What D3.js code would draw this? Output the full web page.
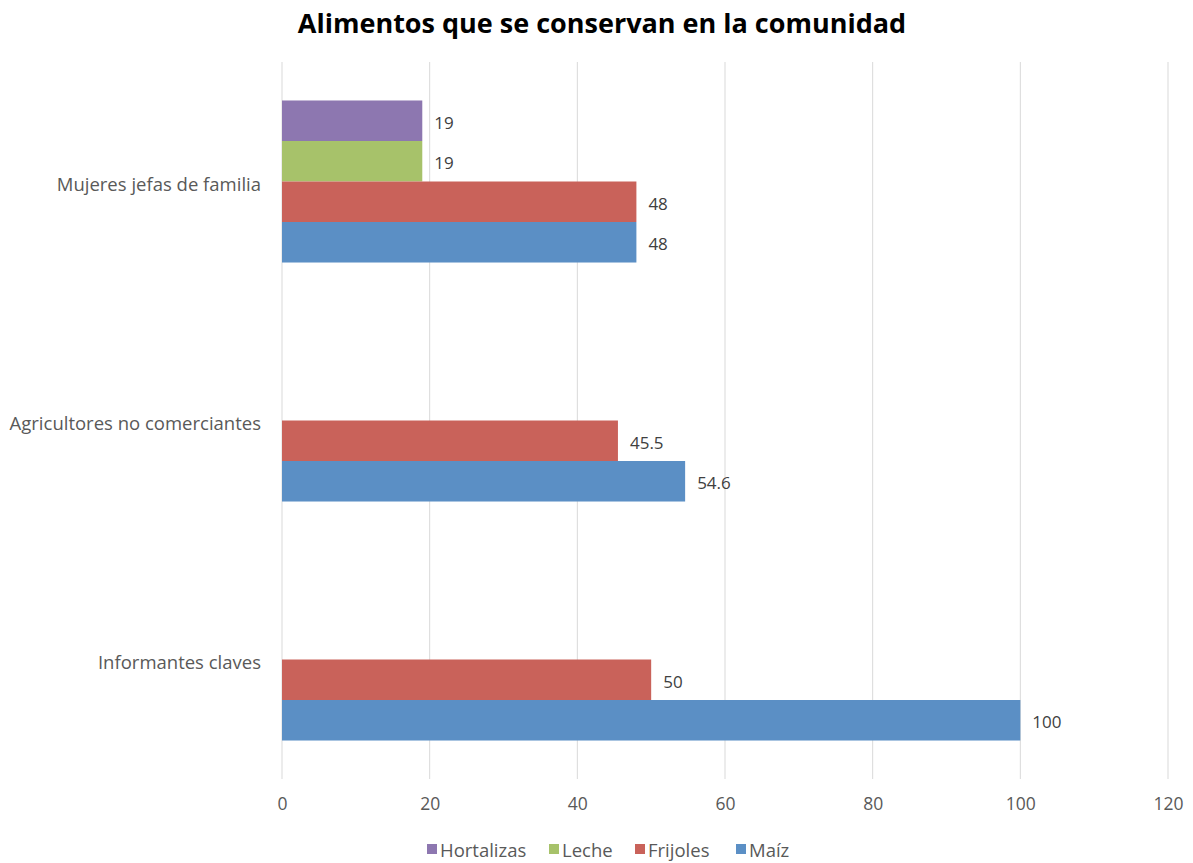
<!DOCTYPE html>
<html>
<head>
<meta charset="utf-8">
<script src="https://cdn.jsdelivr.net/npm/d3@7"></script>
<style>
  body { margin: 0; background: #fff; }
  text { font-family: "Open Sans", sans-serif; }
</style>
</head>
<body>
<div id="chart"></div>
<script>
const categories = ["Mujeres jefas de familia", "Agricultores no comerciantes", "Informantes claves"];
const series = ["Hortalizas", "Leche", "Frijoles", "Maíz"];
const hortalizas = [19, null, null];
const leche = [19, null, null];
const frijoles = [48, 45.5, 50];
const maiz = [48, 54.6, 100];
const xTicks = [0, 20, 40, 60, 80, 100, 120];
const colors = ["#8d77b0", "#a7c26a", "#c9625a", "#5b8fc5"];

const values = [hortalizas, leche, frijoles, maiz];

let width = 1193, height = 863;

let svg = d3.select("#chart")
    .append("svg")
    .attr("width", width)
    .attr("height", height);

let x = d3.scaleLinear().domain([0, 120]).range([282, 1168]);
let y = d3.scaleBand().domain(categories).range([62, 779]).padding(0);
let ySeries = d3.scaleBand().domain(series).range([0, y.bandwidth()]).paddingInner(0).paddingOuter(0.95);
let color = d3.scaleOrdinal().domain(series).range(colors);

// title
svg.append("text")
    .attr("x", 602)
    .attr("y", 33)
    .attr("text-anchor", "middle")
    .attr("font-size", "27px")
    .attr("font-weight", "bold")
    .attr("fill", "#000")
    .text("Alimentos que se conservan en la comunidad");

// gridlines
svg.append("g")
    .selectAll("line")
    .data(xTicks)
    .enter()
    .append("line")
    .attr("x1", d => x(d))
    .attr("x2", d => x(d))
    .attr("y1", 62)
    .attr("y2", 779)
    .attr("stroke", "#d9d9d9")
    .attr("stroke-width", 1);

// x axis labels
let xAxis = svg.append("g")
    .attr("transform", "translate(0,779)")
    .call(d3.axisBottom(x).tickValues(xTicks).tickSize(0).tickPadding(19));
xAxis.select(".domain").remove();
xAxis.selectAll("text")
    .attr("font-family", "'Open Sans', sans-serif")
    .attr("font-size", "17.5px")
    .attr("fill", "#595959");

// y axis labels
let yAxis = svg.append("g")
    .attr("transform", "translate(261,4)")
    .call(d3.axisLeft(y).tickSize(0).tickPadding(0));
yAxis.select(".domain").remove();
yAxis.selectAll("text")
    .attr("font-family", "'Open Sans', sans-serif")
    .attr("font-size", "18.5px")
    .attr("fill", "#595959");

// bars
let rows = [];
categories.forEach((c, i) => {
    series.forEach((s, j) => {
        if (values[j][i] != null) rows.push({ cat: c, ser: s, val: values[j][i] });
    });
});

svg.selectAll(".bar")
    .data(rows)
    .enter()
    .append("rect")
    .attr("class", "bar")
    .attr("x", x(0))
    .attr("y", d => y(d.cat) + ySeries(d.ser))
    .attr("width", d => x(d.val) - x(0))
    .attr("height", ySeries.bandwidth())
    .attr("fill", d => color(d.ser));

svg.selectAll(".lbl")
    .data(rows)
    .enter()
    .append("text")
    .attr("class", "lbl")
    .attr("x", d => x(d.val) + 12)
    .attr("y", d => y(d.cat) + ySeries(d.ser) + ySeries.bandwidth() / 2 + 2)
    .attr("dy", "0.35em")
    .attr("font-size", "17px")
    .attr("fill", "#404040")
    .text(d => d.val);

// legend
let legendX = [427, 549, 635, 736];
let legend = svg.append("g");
series.forEach((s, i) => {
    let g = legend.append("g").attr("transform", `translate(${legendX[i]},851)`);
    g.append("rect")
        .attr("x", 0)
        .attr("y", -7)
        .attr("width", 10)
        .attr("height", 10)
        .attr("fill", color(s));
    g.append("text")
        .attr("x", 13)
        .attr("y", 0)
        .attr("dy", "0.35em")
        .attr("font-size", "18.5px")
        .attr("fill", "#595959")
        .text(s);
});
</script>
</body>
</html>
